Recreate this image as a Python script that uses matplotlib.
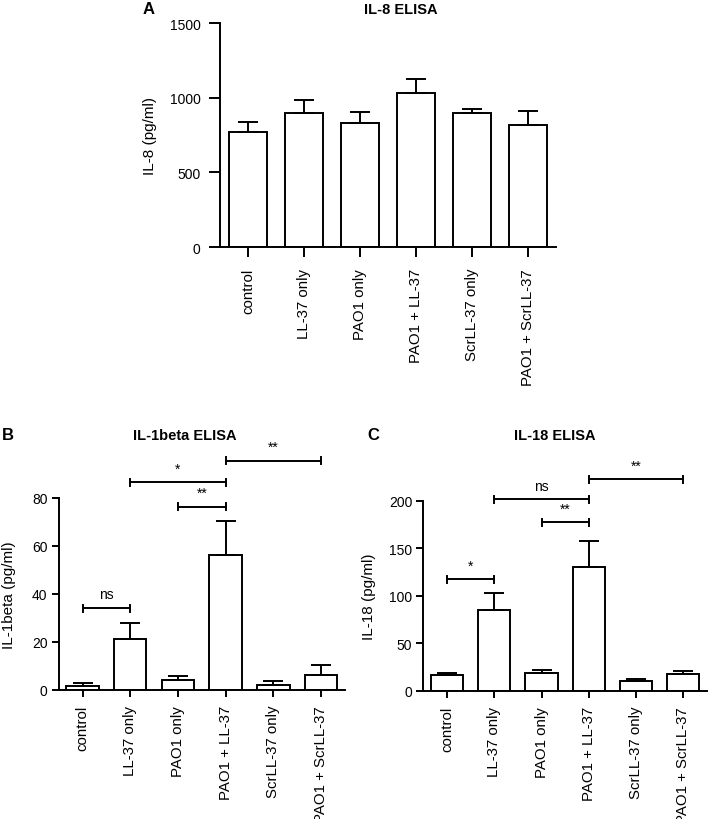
import matplotlib
matplotlib.use("Agg")
import matplotlib.pyplot as plt

plt.rcParams['font.family'] = ['Liberation Sans', 'DejaVu Sans']

categories = ["control", "LL-37 only", "PAO1 only", "PAO1 + LL-37",
              "ScrLL-37 only", "PAO1 + ScrLL-37"]

il8_mean = [768, 899, 832, 1033, 899, 819]
il8_err = [71, 83, 72, 90, 25, 90]

il1b_mean = [1.7, 21.1, 4.0, 56.3, 2.1, 6.2]
il1b_err = [1.0, 6.8, 1.7, 14.1, 1.4, 4.0]
il1b_brackets = [(0, 1, 34, "ns"), (1, 3, 86.4, "*"), (2, 3, 76.3, "**"), (3, 5, 95.4, "**")]

il18_mean = [16.5, 84.8, 19.0, 130.2, 10.2, 17.9]
il18_err = [1.8, 18.6, 3.2, 27.8, 1.8, 3.2]
il18_brackets = [(0, 1, 117.5, "*"), (1, 3, 201.9, "ns"), (2, 3, 177.6, "**"), (3, 5, 223, "**")]

W, H = 708, 820
fig = plt.figure(figsize=(W / 100, H / 100), dpi=100)

LW = 1.4


def make_ax(l, t, r, b):
    return fig.add_axes([l / W, 1 - b / H, (r - l) / W, (b - t) / H])


def style(ax, ymax, yticks, ylabel, ytick_len, ypad, xtick_len, xpad):
    x = range(len(categories))
    ax.set_xlim(-0.5, 5.5)
    ax.set_ylim(0, ymax)
    ax.set_yticks(yticks)
    ax.set_xticks(list(x))
    ax.set_xticklabels(categories, rotation=90, fontsize=10.8)
    ax.tick_params(axis='y', direction='out', length=ytick_len, width=LW, labelsize=10, pad=ypad)
    ax.tick_params(axis='x', direction='out', length=xtick_len, width=LW, pad=xpad)
    for s in ['top', 'right']:
        ax.spines[s].set_visible(False)
    for s in ['left', 'bottom']:
        ax.spines[s].set_linewidth(LW)
    ax.set_ylabel(ylabel, fontsize=11)


def bars(ax, means, errs):
    x = list(range(len(means)))
    ax.bar(x, means, width=0.68, color='white', edgecolor='black', linewidth=LW, zorder=2)
    ax.errorbar(x, means, yerr=[[0] * len(errs), errs], fmt='none', ecolor='black',
                elinewidth=LW, capsize=7, capthick=LW, zorder=3)


def brackets(ax, items, ymax):
    cap = ymax * 0.018
    for a, b, y, txt in items:
        ax.plot([a, b], [y, y], color='black', lw=LW, clip_on=False, zorder=4)
        ax.plot([a, a], [y - cap, y + cap], color='black', lw=LW, clip_on=False, zorder=4)
        ax.plot([b, b], [y - cap, y + cap], color='black', lw=LW, clip_on=False, zorder=4)
        ax.text((a + b) / 2, y + ymax * 0.035, txt, ha='center', va='bottom',
                fontsize=10, clip_on=False)


# Panel A
axA = make_ax(220, 24, 556, 248)
bars(axA, il8_mean, il8_err)
style(axA, 1500, [0, 500, 1000, 1500], "IL-8 (pg/ml)", 8, 6, 7, 8)
axA.yaxis.set_label_coords((157 - 220) / 336, 0.5)
fig.text(401 / W, 1 - 10 / H, "IL-8 ELISA", ha='center', va='center', fontsize=10.5, fontweight='bold')
fig.text(149 / W, 1 - 9 / H, "A", ha='center', va='center', fontsize=12, fontweight='bold')

# Panel B
axB = make_ax(58.7, 498.7, 344.9, 690.7)
bars(axB, il1b_mean, il1b_err)
style(axB, 80, [0, 20, 40, 60, 80], "IL-1beta (pg/ml)", 5, 3, 5, 6)
axB.yaxis.set_label_coords((16 - 58.7) / 286.2, 0.5)
brackets(axB, il1b_brackets, 80)
fig.text(185 / W, 1 - 436 / H, "IL-1beta ELISA", ha='center', va='center', fontsize=10.5, fontweight='bold')
fig.text(8 / W, 1 - 436 / H, "B", ha='center', va='center', fontsize=12, fontweight='bold')

# Panel C
axC = make_ax(423.3, 502, 707, 691.7)
bars(axC, il18_mean, il18_err)
style(axC, 200, [0, 50, 100, 150, 200], "IL-18 (pg/ml)", 5, 3, 5, 6)
axC.yaxis.set_label_coords((376 - 423.3) / 283.7, 0.5)
brackets(axC, il18_brackets, 200)
fig.text(555 / W, 1 - 436 / H, "IL-18 ELISA", ha='center', va='center', fontsize=10.5, fontweight='bold')
fig.text(373 / W, 1 - 436 / H, "C", ha='center', va='center', fontsize=12, fontweight='bold')

fig.savefig("out.png", dpi=100)
